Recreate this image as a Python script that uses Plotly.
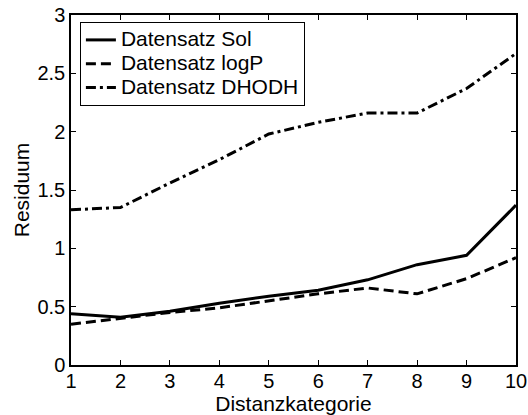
import plotly.graph_objects as go

kategorie = [1, 2, 3, 4, 5, 6, 7, 8, 9, 10]
sol = [0.44, 0.41, 0.46, 0.53, 0.59, 0.64, 0.73, 0.86, 0.94, 1.37]
logp = [0.35, 0.40, 0.45, 0.49, 0.55, 0.61, 0.66, 0.61, 0.74, 0.92]
dhodh = [1.33, 1.35, 1.56, 1.76, 1.98, 2.08, 2.16, 2.16, 2.37, 2.67]

names = ["Datensatz Sol", "Datensatz logP", "Datensatz DHODH"]
dashes = ["solid", "10px,5px", "10px,4px,3px,4px"]

fig = go.Figure()
for name, vals, dash in zip(names, [sol, logp, dhodh], dashes):
    fig.add_trace(go.Scatter(x=kategorie, y=vals, mode="lines",
                             name="<span style='font-size:21px'>" + name + "</span>",
                             line=dict(color="black", width=3, dash=dash)))

font = "Liberation Sans, Arial, sans-serif"
axis_common = dict(showline=True, linecolor="black", linewidth=1.5, mirror="allticks",
                   ticks="inside", ticklen=5, tickcolor="black", tickwidth=1,
                   showgrid=False, zeroline=False, automargin=False,
                   tickfont=dict(family=font, size=20, color="black"))

fig.update_layout(
    width=528, height=415,
    margin=dict(l=71, r=12, t=15, b=50),
    paper_bgcolor="white", plot_bgcolor="white",
    font=dict(family=font, color="black"),
    xaxis=dict(range=[1, 10], tickvals=kategorie, ticklabelstandoff=-3, **axis_common,
               title=dict(text="Distanzkategorie", font=dict(family=font, size=21), standoff=2)),
    yaxis=dict(range=[0, 3], tickvals=[0, 0.5, 1, 1.5, 2, 2.5, 3],
               ticktext=["0", "0.5", "1", "1.5", "2", "2.5", "3"], **axis_common,
               title=dict(text="Residuum", font=dict(family=font, size=21), standoff=2)),
    legend=dict(x=0.02, y=0.98, xanchor="left", yanchor="top",
                bordercolor="black", borderwidth=1, bgcolor="white",
                font=dict(family=font, size=16, color="black"),
                tracegroupgap=0, itemwidth=30),
    showlegend=True,
)

fig.write_html("out.html")
